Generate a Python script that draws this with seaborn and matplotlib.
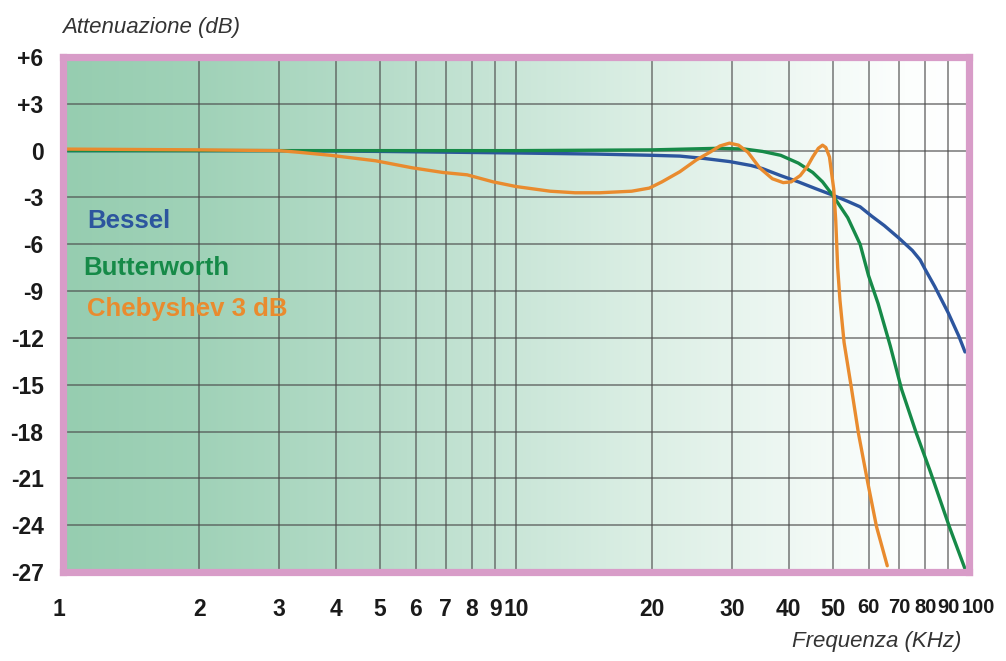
import numpy as np
import pandas as pd
import matplotlib
matplotlib.use("Agg")
import matplotlib.pyplot as plt
import matplotlib.transforms as mtransforms
from matplotlib.colors import LinearSegmentedColormap
import seaborn as sns

# ---- data ----
bessel_f = [1, 3, 5, 10, 15, 20, 23, 26, 29.6, 33, 35, 38.4, 42, 46, 50, 54, 57.5, 61, 65,
            70, 75, 78, 80, 84, 90, 95, 98]
bessel_db = [0, 0, -0.05, -0.15, -0.22, -0.3, -0.35, -0.5, -0.7, -0.95, -1.15, -1.6, -2.0,
             -2.45, -2.85, -3.25, -3.6, -4.2, -4.8, -5.6, -6.4, -7.0, -7.6, -8.7, -10.4,
             -11.9, -12.9]

butter_f = [1, 10, 20, 28, 32, 35, 38.4, 42, 45.2, 47.5, 50, 54, 57.5, 60, 63, 67, 71, 76.5,
            82, 90.5, 98]
butter_db = [0, 0, 0.05, 0.15, 0.1, -0.05, -0.3, -0.8, -1.4, -2.0, -2.85, -4.3, -6.0, -8.0,
             -9.8, -12.5, -15.3, -18.1, -20.5, -24.1, -26.8]

cheb_f = [1, 2, 3, 3.3, 3.9, 4.9, 5.9, 6.9, 7.8, 8.9, 10, 11.9, 13.5, 15.3, 18, 19.7, 21, 23,
          25, 26.8, 28.2, 29.6, 31, 32.5, 34.5, 36.8, 38.9, 40.5, 42.4, 44, 45.2, 46.5, 47.5,
          48.3, 49.2, 50.3, 50.8, 51.3, 51.9, 53, 55, 57, 59.8, 62.5, 66]
cheb_db = [0.1, 0.05, 0, -0.1, -0.3, -0.65, -1.1, -1.4, -1.55, -2.0, -2.3, -2.6, -2.7, -2.7,
           -2.6, -2.4, -2.0, -1.35, -0.6, -0.1, 0.3, 0.48, 0.35, -0.1, -1.1, -1.8, -2.05,
           -2.0, -1.6, -1.0, -0.4, 0.15, 0.35, 0.2, -0.4, -2.5, -4.5, -7.5, -9.6, -12.3,
           -15.2, -18.1, -21.3, -24.1, -26.6]

series_names = ["Bessel", "Butterworth", "Chebyshev 3 dB"]
series_colors = ["#2c559e", "#168a48", "#e98b2e"]

x_ticks = [1, 2, 3, 4, 5, 6, 7, 8, 9, 10, 20, 30, 40, 50, 60, 70, 80, 90, 100]
x_ticklabels = ["1", "2", "3", "4", "5", "6", "7", "8", "9", "10", "20", "30", "40", "50",
                "60", "70", "80", "90", "100"]
y_ticks = [6, 3, 0, -3, -6, -9, -12, -15, -18, -21, -24, -27]
y_ticklabels = ["+6", "+3", "0", "-3", "-6", "-9", "-12", "-15", "-18", "-21", "-24", "-27"]

# ---- style ----
sns.set_style("white")
plt.rcParams['font.family'] = ['Liberation Sans', 'DejaVu Sans']

W, H = 1006, 661
fig = plt.figure(figsize=(W / 100, H / 100), dpi=100)
ax_l, ax_r, ax_t, ax_b = 63, 969, 57, 572
ax = fig.add_axes([ax_l / W, 1 - ax_b / H, (ax_r - ax_l) / W, (ax_b - ax_t) / H])

# background gradient
cmap = LinearSegmentedColormap.from_list("bg", [
    (0.0, "#96cdb0"), (0.15, "#a0d2b8"), (0.35, "#b6dcc9"), (0.5, "#cae6d8"),
    (0.65, "#dcefe5"), (0.76, "#e9f5ef"), (0.86, "#f5fbf8"), (0.93, "#fcfefd"),
    (1.0, "#ffffff")])
grad = np.linspace(0, 1, 512).reshape(1, -1)
ax.imshow(grad, cmap=cmap, aspect="auto", extent=[0, 1, 0, 1],
          transform=ax.transAxes, zorder=0, interpolation="bicubic")

# curves
frames = [pd.DataFrame({"f": bessel_f, "db": bessel_db}),
          pd.DataFrame({"f": butter_f, "db": butter_db}),
          pd.DataFrame({"f": cheb_f, "db": cheb_db})]
for df, col in zip(frames, series_colors):
    sns.lineplot(data=df, x="f", y="db", ax=ax, color=col, lw=2.4, sort=False,
                 estimator=None, zorder=4, solid_capstyle="round", solid_joinstyle="round")

ax.set_xscale("log")
ax.set_xlim(1, 100)
ax.set_ylim(-27, 6)

# grid
for xv in x_ticks:
    ax.axvline(xv, color="#4a4a4a", lw=1.1, alpha=0.75, zorder=2)
for yv in y_ticks:
    ax.axhline(yv, color="#4a4a4a", lw=1.1, alpha=0.75, zorder=2)

# ticks
ax.set_xticks(x_ticks)
ax.set_xticklabels(x_ticklabels)
ax.xaxis.set_minor_locator(matplotlib.ticker.NullLocator())
ax.set_yticks(y_ticks)
ax.set_yticklabels(y_ticklabels)
ax.tick_params(axis="x", length=0, pad=19)
ax.tick_params(axis="y", length=0, pad=14)
for lab in ax.get_xticklabels():
    lab.set_fontweight("bold")
    lab.set_color("#1a1a1a")
    txt = lab.get_text()
    lab.set_fontsize(14.5 if txt in ("60", "70", "80", "90", "100") else 16.5)
    if txt == "1":
        lab.set_transform(lab.get_transform() + mtransforms.ScaledTranslation(-4 / 100, 0, fig.dpi_scale_trans))
    if txt == "100":
        lab.set_transform(lab.get_transform() + mtransforms.ScaledTranslation(9 / 100, 0, fig.dpi_scale_trans))
for lab in ax.get_yticklabels():
    lab.set_fontweight("bold")
    lab.set_color("#1a1a1a")
    lab.set_fontsize(16.5)
ax.set_xlabel("")
ax.set_ylabel("")

# pink frame
for sp in ax.spines.values():
    sp.set_visible(True)
    sp.set_color("#d89cc8")
    sp.set_linewidth(5.2)
    sp.set_zorder(6)

# labels for series
label_pos = [(87, 221), (83, 268), (87, 309)]
for name, col, (px, py) in zip(series_names, series_colors, label_pos):
    fig.text(px / W, 1 - py / H, name, color=col, fontsize=18.5, fontweight="bold",
             ha="left", va="center")

# axis titles
fig.text(62 / W, 1 - 28 / H, "Attenuazione (dB)", fontsize=16, style="italic",
         color="#333333", ha="left", va="center")
fig.text(961 / W, 1 - 642 / H, "Frequenza (KHz)", fontsize=16, style="italic",
         color="#333333", ha="right", va="center")

fig.savefig("out.png", dpi=100)
